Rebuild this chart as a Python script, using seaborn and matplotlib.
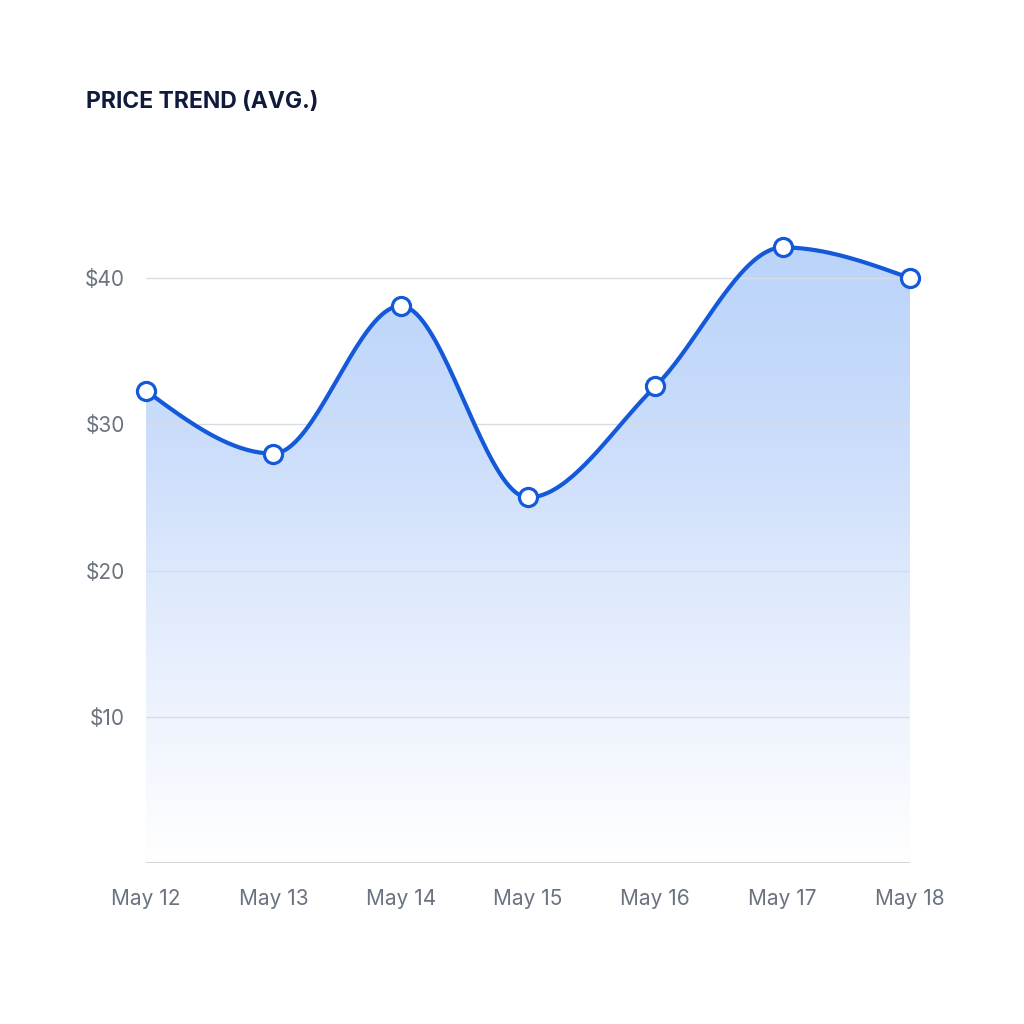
import matplotlib
matplotlib.use("Agg")
import matplotlib.pyplot as plt
import seaborn as sns
import numpy as np
import pandas as pd

# data
days = ["May 12", "May 13", "May 14", "May 15", "May 16", "May 17", "May 18"]
prices = [32.3, 28.0, 38.1, 25.0, 32.6, 42.1, 40.0]
y_ticks = [10, 20, 30, 40]
y_tick_labels = ["$10", "$20", "$30", "$40"]

LINE = "#1459d9"
GRID = "#d8dce3"
TEXT = "#6b7280"
TITLE = "#0f1a3c"


def monotone_curve(x, y, n=40):
    # cubic hermite with monotone tangents (like d3 curveMonotoneX)
    x = np.asarray(x, float)
    y = np.asarray(y, float)
    h = np.diff(x)
    s = np.diff(y) / h
    m = np.zeros_like(y)
    for i in range(1, len(y) - 1):
        if s[i - 1] * s[i] <= 0:
            m[i] = 0
        else:
            p = (s[i - 1] * h[i] + s[i] * h[i - 1]) / (h[i - 1] + h[i])
            m[i] = np.sign(s[i - 1]) * min(abs(s[i - 1]), abs(s[i]), 0.5 * abs(p)) * 2
    m[0] = (3 * s[0] - m[1]) / 2
    m[-1] = (3 * s[-1] - m[-2]) / 2
    xs, ys = [], []
    for i in range(len(x) - 1):
        t = np.linspace(0, 1, n, endpoint=(i == len(x) - 2))
        h00 = 2 * t**3 - 3 * t**2 + 1
        h10 = t**3 - 2 * t**2 + t
        h01 = -2 * t**3 + 3 * t**2
        h11 = t**3 - t**2
        xs.append(x[i] + t * h[i])
        ys.append(h00 * y[i] + h10 * h[i] * m[i] + h01 * y[i + 1] + h11 * h[i] * m[i + 1])
    return np.concatenate(xs), np.concatenate(ys)


pos = np.arange(len(days))
df = pd.DataFrame({"pos": pos, "price": prices, "day": days})
cx, cy = monotone_curve(pos, prices)
curve = pd.DataFrame({"pos": cx, "price": cy})

sns.set_style("white")
plt.rcParams["font.family"] = ["Inter", "DejaVu Sans"]

fig = plt.figure(figsize=(10.24, 10.24), dpi=100)
ax = fig.add_axes([0.1426, 0.1572, 0.7461, 0.6426])
ymax = 45

# gradient fill under the curve
grad = np.linspace(0, 1, 256).reshape(-1, 1)
cmap = matplotlib.colors.LinearSegmentedColormap.from_list(
    "fade", ["#ffffff", "#e6eefd", "#c9dcfb", "#b8d2fa"])
img = ax.imshow(grad, aspect="auto", cmap=cmap, origin="lower",
                extent=[pos[0], pos[-1], 0, ymax], zorder=1)
poly = ax.fill_between(cx, cy, 0, color="none", lw=0)
clip = matplotlib.patches.PathPatch(poly.get_paths()[0], transform=ax.transData,
                                    facecolor="none", edgecolor="none")
ax.add_patch(clip)
img.set_clip_path(clip)

for t in y_ticks:
    ax.axhline(t, color=GRID, lw=1.0, zorder=2)
ax.axhline(0, color="#d3d6db", lw=1.4, zorder=2)

sns.lineplot(data=curve, x="pos", y="price", color=LINE, linewidth=3.0,
             ax=ax, zorder=3, sort=False)
sns.scatterplot(data=df, x="pos", y="price", color="white", edgecolor=LINE,
                linewidth=2.3, s=170, ax=ax, zorder=4, clip_on=False)

ax.set_xlim(pos[0], pos[-1])
ax.set_ylim(0, ymax)
ax.set_xticks(pos)
ax.set_xticklabels(days)
ax.set_yticks(y_ticks)
ax.set_yticklabels(y_tick_labels)
ax.tick_params(axis="both", length=0, labelsize=15, colors=TEXT)
ax.tick_params(axis="x", pad=19)
ax.tick_params(axis="y", pad=15)
ax.set_xlabel("")
ax.set_ylabel("")
for sp in ax.spines.values():
    sp.set_visible(False)

fig.text(0.084, 0.9, "PRICE TREND (AVG.)", fontsize=16.5, fontweight="bold",
         color=TITLE, ha="left", va="center")

fig.savefig("out.png", dpi=100, facecolor="white")
